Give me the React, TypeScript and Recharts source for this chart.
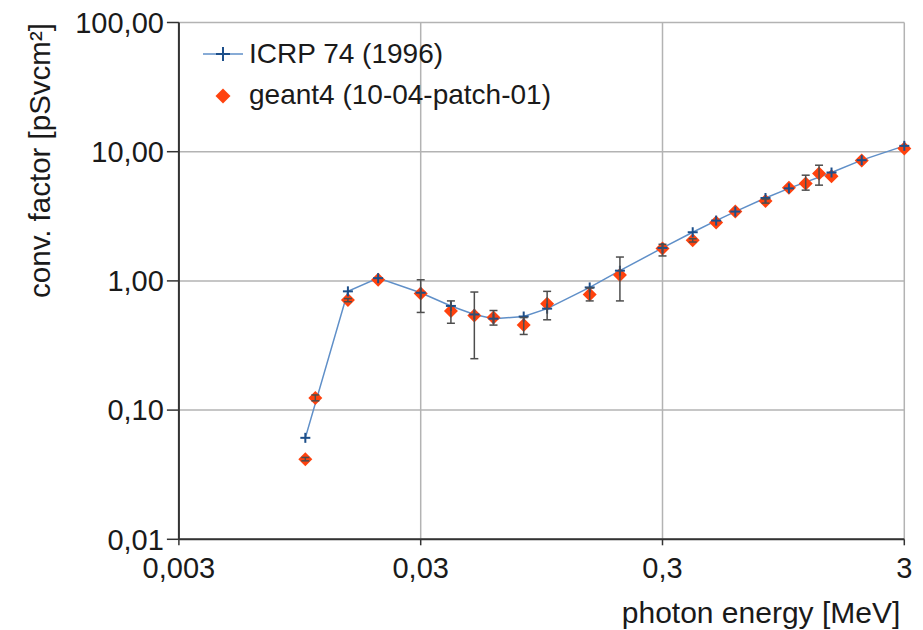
import {
  ComposedChart,
  Line,
  Scatter,
  XAxis,
  YAxis,
  CartesianGrid,
  ErrorBar,
  Legend,
  Label,
} from 'recharts';

const FONT = '"Liberation Sans", Arial, sans-serif';

// ICRP 74 (1996) fluence-to-H*(10) conversion factors
const icrpEnergy = [0.01, 0.015, 0.02, 0.03, 0.04, 0.05, 0.06, 0.08, 0.1, 0.15, 0.2, 0.3, 0.4, 0.5, 0.6, 0.8, 1, 1.5, 2, 3];
const icrpFactor = [0.061, 0.83, 1.05, 0.81, 0.64, 0.55, 0.51, 0.53, 0.61, 0.89, 1.2, 1.8, 2.38, 2.93, 3.44, 4.38, 5.2, 6.9, 8.6, 11.1];

// geant4 (10-04-patch-01) results, with lower / upper bounds of the error bars
const geantEnergy = [0.01, 0.011, 0.015, 0.02, 0.03, 0.04, 0.05, 0.06, 0.08, 0.1, 0.15, 0.2, 0.3, 0.4, 0.5, 0.6, 0.8, 1, 1.173, 1.332, 1.5, 2, 3];
const geantFactor = [0.0417, 0.124, 0.71, 1.02, 0.8, 0.585, 0.54, 0.52, 0.455, 0.665, 0.785, 1.11, 1.78, 2.06, 2.83, 3.45, 4.15, 5.25, 5.67, 6.78, 6.46, 8.55, 10.6];
const geantLow = [0.0405, 0.118, 0.69, null, 0.57, 0.47, 0.25, 0.455, 0.385, 0.5, 0.7, 0.7, 1.56, 2.0, null, null, 4.0, null, 5.04, 5.51, null, null, null];
const geantHigh = [0.043, 0.131, 0.73, null, 1.02, 0.7, 0.82, 0.59, 0.52, 0.83, 0.88, 1.53, 1.92, 2.12, null, null, 4.3, null, 6.58, 7.86, null, null, null];

const xTicks = [0.003, 0.03, 0.3, 3];
const xTickLabels = ['0,003', '0,03', '0,3', '3'];
const yTicks = [0.01, 0.1, 1, 10, 100];
const yTickLabels = ['0,01', '0,10', '1,00', '10,00', '100,00'];

const icrpName = 'ICRP 74 (1996)';
const geantName = 'geant4 (10-04-patch-01)';

const LINE_COLOR = '#5f8fc8';
const CROSS_COLOR = '#1d4f8a';
const DIAMOND_COLOR = '#ff420e';
const GRID_COLOR = '#b3b3b3';
const TEXT_COLOR = '#1a1a1a';

const icrpData = icrpEnergy.map((e, i) => ({ e, v: icrpFactor[i] }));
const geantData = geantEnergy.map((e, i) => {
  const lo = geantLow[i];
  const hi = geantHigh[i];
  const v = geantFactor[i];
  return {
    e,
    v,
    err: lo == null || hi == null ? undefined : [v - lo, hi - v],
  };
});

function Cross({ cx, cy, r = 5, color = CROSS_COLOR }: any) {
  return (
    <g>
      <line x1={cx - r} y1={cy} x2={cx + r} y2={cy} stroke={color} strokeWidth={2} />
      <line x1={cx} y1={cy - r} x2={cx} y2={cy + r} stroke={color} strokeWidth={2} />
    </g>
  );
}

function Diamond({ cx, cy, r = 7 }: any) {
  return (
    <path
      d={`M${cx},${cy - r}L${cx + r},${cy}L${cx},${cy + r}L${cx - r},${cy}Z`}
      fill={DIAMOND_COLOR}
    />
  );
}

function LegendBox() {
  return (
    <svg width={380} height={90} style={{ display: 'block' }}>
      <line x1={8} y1={24} x2={48} y2={24} stroke={LINE_COLOR} strokeWidth={1.5} />
      <Cross cx={28} cy={24} r={7} />
      <text x={54} y={33} fontSize={28} fontFamily={FONT} fill={TEXT_COLOR}>
        {icrpName}
      </text>
      <Diamond cx={28} cy={66} r={7.5} />
      <text x={54} y={74} fontSize={28} fontFamily={FONT} fill={TEXT_COLOR}>
        {geantName}
      </text>
    </svg>
  );
}

export default function App() {
  return (
    <div style={{ position: 'absolute', left: 0, top: 0, width: 923, height: 630, background: '#fff' }}>
      <ComposedChart
        width={923}
        height={630}
        margin={{ top: 22.5, right: 18.7, bottom: 0, left: 0 }}
      >
        <CartesianGrid stroke={GRID_COLOR} strokeWidth={1.5} />
        <XAxis
          dataKey="e"
          type="number"
          scale="log"
          domain={[0.003, 3]}
          ticks={xTicks}
          tickFormatter={(v) => xTickLabels[xTicks.indexOf(v)]}
          height={90.7}
          tickSize={6}
          tickMargin={12}
          axisLine={{ stroke: '#333', strokeWidth: 2 }}
          tickLine={{ stroke: '#333', strokeWidth: 1.5 }}
          tick={{ fill: TEXT_COLOR, fontSize: 29, fontFamily: FONT }}
        >
          <Label
            content={({ viewBox }: any) => (
              <text
                x={viewBox.x + viewBox.width - 4}
                y={viewBox.y + viewBox.height - 7}
                textAnchor="end"
                fontSize={30}
                fontFamily={FONT}
                fill={TEXT_COLOR}
              >
                photon energy [MeV]
              </text>
            )}
          />
        </XAxis>
        <YAxis
          dataKey="v"
          type="number"
          scale="log"
          domain={[0.01, 100]}
          ticks={yTicks}
          tickFormatter={(v) => yTickLabels[yTicks.indexOf(v)]}
          width={178.9}
          tickSize={12}
          tickMargin={3}
          axisLine={{ stroke: '#333', strokeWidth: 2 }}
          tickLine={{ stroke: '#333', strokeWidth: 1.5 }}
          tick={{ fill: TEXT_COLOR, fontSize: 29, fontFamily: FONT }}
        >
          <Label
            content={({ viewBox }: any) => {
              const x = viewBox.x + 50;
              const y = viewBox.y + 138;
              return (
                <text
                  x={x}
                  y={y}
                  transform={`rotate(-90 ${x} ${y})`}
                  textAnchor="middle"
                  fontSize={29.5}
                  fontFamily={FONT}
                  fill={TEXT_COLOR}
                >
                  conv. factor [pSvcm²]
                </text>
              );
            }}
          />
        </YAxis>
        <Legend
          layout="vertical"
          align="center"
          verticalAlign="middle"
          content={() => <LegendBox />}
          wrapperStyle={{ left: 195, top: 30, width: 380, height: 90 }}
        />
        <Scatter
          name={geantName}
          data={geantData}
          dataKey="v"
          isAnimationActive={false}
          shape={(p: any) => <Diamond cx={p.cx} cy={p.cy} r={7} />}
        />
        <Scatter
          name="geant4 errors"
          data={geantData}
          dataKey="v"
          legendType="none"
          isAnimationActive={false}
          shape={() => <g />}
          zIndex={700}
        >
          <ErrorBar dataKey="err" direction="y" width={4} stroke="#4d4d4d" strokeWidth={1.5} zIndex={700} />
        </Scatter>
        <Line
          name={icrpName}
          data={icrpData}
          dataKey="v"
          type="linear"
          stroke={LINE_COLOR}
          strokeWidth={1.5}
          isAnimationActive={false}
          dot={(p: any) => <Cross key={`c-${p.index}`} cx={p.cx} cy={p.cy} r={5} />}
          activeDot={false}
        />
      </ComposedChart>
    </div>
  );
}
